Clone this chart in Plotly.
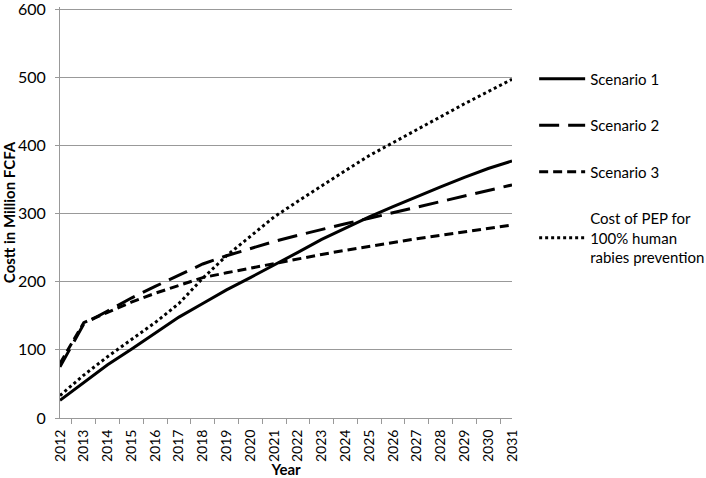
import plotly.graph_objects as go

years = [str(y) for y in range(2012, 2032)]

scenario_1 = [26, 52, 78, 101, 125, 148, 168, 188, 206, 224, 243, 262, 279, 295, 310, 325, 339, 353, 366, 377]
scenario_2 = [75, 138, 157, 176, 193, 210, 226, 238, 249, 259, 268, 277, 285, 293, 301, 309, 317, 325, 333, 342]
scenario_3 = [80, 140, 155, 170, 183, 195, 206, 213, 220, 227, 234, 240, 246, 252, 257, 263, 268, 273, 278, 283]
pep_cost = [33, 63, 90, 115, 140, 168, 205, 238, 266, 295, 318, 341, 363, 385, 404, 424, 443, 461, 479, 497]

series = [
    ("Scenario 1", scenario_1, "solid"),
    ("Scenario 2", scenario_2, "20px,9px"),
    ("Scenario 3", scenario_3, "9px,5px"),
    ("Cost of PEP for<br>100% human<br>rabies prevention", pep_cost, "dot"),
]

fig = go.Figure()
for i, (name, vals, dash) in enumerate(series):
    fig.add_trace(go.Scatter(
        x=years, y=vals, mode="lines", name=name, legendgroup=str(i),
        line=dict(color="black", width=3, dash=dash),
    ))

font = "Lato, Open Sans, sans-serif"
fig.update_layout(
    width=706, height=478,
    margin=dict(l=60, r=194, t=7, b=60, autoexpand=False),
    paper_bgcolor="white", plot_bgcolor="white",
    font=dict(family=font, size=15, color="black"),
    legend=dict(x=1.049, y=0.865, xanchor="left", yanchor="top",
                tracegroupgap=24, font=dict(size=15), itemwidth=46),
    xaxis=dict(
        title=dict(text="<b>Year</b>", font=dict(size=15), standoff=3),
        tickangle=-90, tickson="boundaries", ticks="outside", ticklen=5,
        tickcolor="#999", showline=True, linecolor="#999", linewidth=1,
        showgrid=False, tickfont=dict(size=14), automargin=False,
        ticklabelstandoff=5,
    ),
    yaxis=dict(
        title=dict(text="<b>Costt in Million FCFA</b>", font=dict(size=15), standoff=10),
        range=[0, 603], tickvals=[0, 100, 200, 300, 400, 500, 600],
        ticks="outside", ticklen=4, tickcolor="#999", ticklabelstandoff=6,
        ticklabeloverflow="allow",
        showline=True, linecolor="#999", linewidth=1,
        showgrid=True, gridcolor="#999", gridwidth=1, zeroline=False,
        tickfont=dict(size=16), automargin=False,
    ),
)

fig.write_html("out.html", config={"displayModeBar": False},
               post_script="document.body.style.margin='0';")
